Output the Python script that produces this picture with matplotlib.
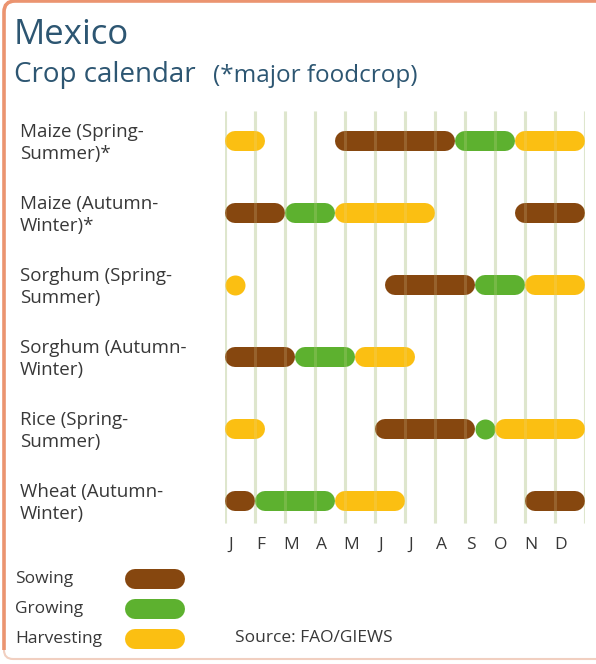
import matplotlib
matplotlib.use('Agg')
import matplotlib.pyplot as plt
from matplotlib.path import Path
from matplotlib.patches import PathPatch
from matplotlib.transforms import blended_transform_factory

# crop calendar, month units (0 = start of Jan, 12 = end of Dec)
crops = ['Maize (Spring-\nSummer)*', 'Maize (Autumn-\nWinter)*',
         'Sorghum (Spring-\nSummer)', 'Sorghum (Autumn-\nWinter)',
         'Rice (Spring-\nSummer)', 'Wheat (Autumn-\nWinter)']
sowing = [[(3.67, 7.67)], [(0, 2), (9.67, 12)], [(5.33, 8.33)],
          [(0, 2.33)], [(5.0, 8.33)], [(0, 1), (10, 12)]]
growing = [[(7.67, 9.67)], [(2, 3.67)], [(8.33, 10)],
           [(2.33, 4.33)], [(8.33, 9.0)], [(1, 3.67)]]
harvesting = [[(0, 1.33), (9.67, 12)], [(3.67, 7)], [(0, 0.67), (10, 12)],
              [(4.33, 6.33)], [(0, 1.33), (9.0, 12)], [(3.67, 6)]]
months = ['J', 'F', 'M', 'A', 'M', 'J', 'J', 'A', 'S', 'O', 'N', 'D']
stages = ['Sowing', 'Growing', 'Harvesting']

colors = {'Sowing': '#86470f', 'Growing': '#5db12f', 'Harvesting': '#fbbf12'}
title_color = '#2d5672'
text_color = '#383838'
grid_color = '#dce8d4'

W, H = 596, 664
plt.rcParams['font.family'] = ['Open Sans', 'DejaVu Sans']

fig = plt.figure(figsize=(W / 100, H / 100), dpi=100)

# background layer in pixel units for frame, titles and legend
bg = fig.add_axes([0, 0, 1, 1], zorder=0)
bg.set_xlim(0, W)
bg.set_ylim(H, 0)
bg.axis('off')

frame = Path([(4, 650), (4, 12), (4, 1), (15, 1), (620, 1)],
             [Path.MOVETO, Path.LINETO, Path.CURVE3, Path.CURVE3, Path.LINETO])
bg.add_patch(PathPatch(frame, fill=False, edgecolor='#eb9470', lw=2.6))
bottom = Path([(4, 650), (4, 659), (13, 659), (620, 659)],
              [Path.MOVETO, Path.CURVE3, Path.CURVE3, Path.LINETO])
bg.add_patch(PathPatch(bottom, fill=False, edgecolor='#f1cfc0', lw=1.5))

bg.text(14, 44, 'Mexico', fontsize=25, color=title_color, va='baseline')
bg.text(14, 82, 'Crop calendar', fontsize=20, color=title_color, va='baseline')
bg.text(213, 82, '(*major foodcrop)', fontsize=17.5, color=title_color, va='baseline')

bar_px = 20
bar_lw = bar_px * 72 / 100

# legend pills
for i, stage in enumerate(stages):
    y = 579 + 30 * i
    bg.text(15, y, stage, fontsize=12.5, color=text_color, va='center')
    bg.plot([125 + bar_px / 2, 185 - bar_px / 2], [y, y], color=colors[stage],
            lw=bar_lw, solid_capstyle='round')
bg.text(235, 638, 'Source: FAO/GIEWS', fontsize=12.5, color=text_color, va='center')

# calendar axes: x in months, y in row index
x0, x1, y_top, y_bot = 225, 585, 105, 530
row0, row_step = 141, 72
ax = fig.add_axes([x0 / W, 1 - y_bot / H, (x1 - x0) / W, (y_bot - y_top) / H], zorder=1)
ax.set_xlim(0, 12)
ax.set_ylim((y_bot - row0) / row_step, (y_top - row0) / row_step)
ax.axis('off')

ax.vlines(range(13), -0.42, 5.3, color=grid_color, lw=2.2, zorder=1)

r = (bar_px / 2) / ((x1 - x0) / 12)
for stage, spans in zip(stages, [sowing, growing, harvesting]):
    for row, segs in enumerate(spans):
        for start, end in segs:
            if end - start <= 2 * r + 0.01:
                # one-dot span
                ax.plot([(start + end) / 2], [row], 'o', color=colors[stage],
                        markersize=bar_lw, markeredgewidth=0, clip_on=False, zorder=2)
            else:
                ax.plot([start + r, end - r], [row, row], color=colors[stage],
                        lw=bar_lw, solid_capstyle='round', clip_on=False, zorder=2)

# faint month lines show through the bars
ax.vlines(range(13), -0.42, 5.3, color='#e8e0b0', lw=2.2, alpha=0.18, zorder=3)

for i, m in enumerate(months):
    ax.text(i + 0.2, (545 - row0) / row_step, m, fontsize=12.5, color=text_color,
            ha='center', va='center', clip_on=False)

lab_tr = blended_transform_factory(bg.transData, ax.transData)
for row, name in enumerate(crops):
    ax.text(20, row + 0.03, name, transform=lab_tr, fontsize=13.5, color=text_color,
            va='center', ha='left', linespacing=1.3)

fig.savefig('out.png', dpi=100)
